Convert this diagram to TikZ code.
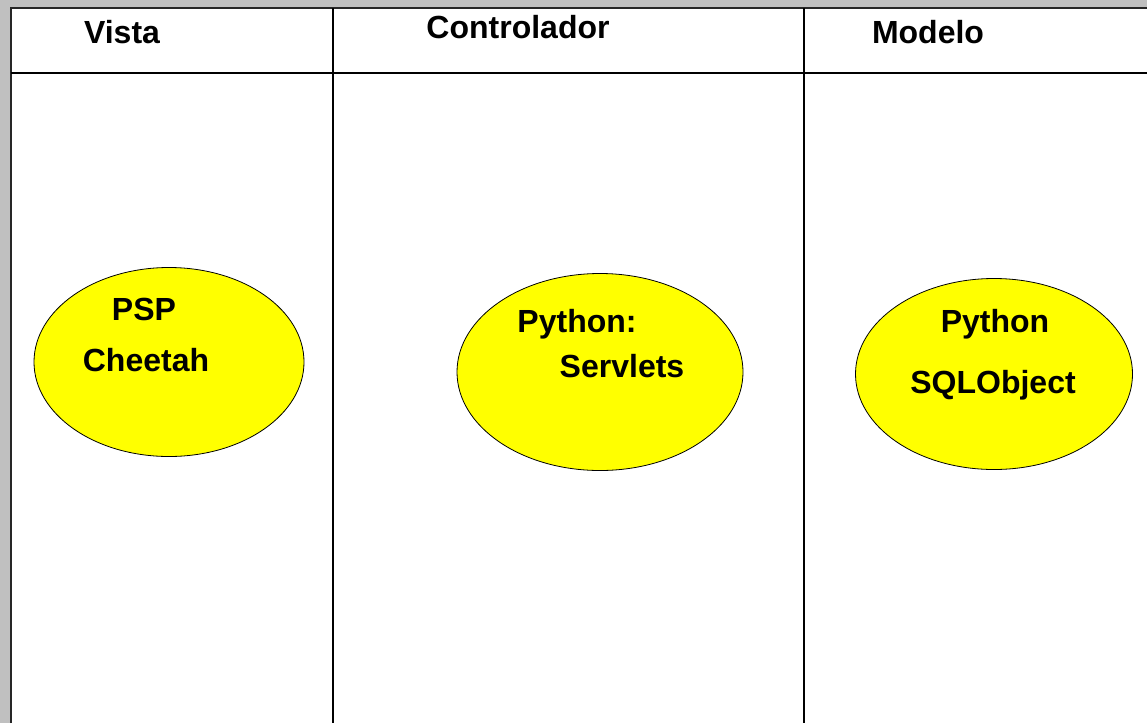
\documentclass[tikz,border=0pt]{standalone}
\usepackage{fontspec}
\setmainfont{Liberation Sans}
\usepackage{xcolor}
\usepackage{tikz}
\usetikzlibrary{shapes.geometric}

\definecolor{winGray}{HTML}{C0C0C0}
\definecolor{techYellow}{HTML}{FFFF00}

\begin{document}
\begin{tikzpicture}[
    x=1pt, y=-1pt,
    frame/.style={line width=1.6pt, draw=black!85},
    lane/.style={line width=1.3pt},
    tech/.style={draw, ellipse, line width=0.8pt, fill=techYellow, inner sep=0pt},
    label/.style={anchor=base, inner sep=0pt, font=\fontsize{32}{36}\selectfont\bfseries}
]
\useasboundingbox (0,0) rectangle (1147,723);

% Window background and frame
\fill[winGray] (0,0) rectangle (1147,723);
\fill[white] (11,8) rectangle (1147,723);
\draw[frame] (11,723) -- (11,8) -- (1147,8);

% Lanes
\draw[lane] (11,73) -- (1147,73);
\draw[lane] (333,8) -- (333,723);
\draw[lane] (804,8) -- (804,723);

% Headers
\node[label] (vista) at (122,43) {Vista};
\node[label] (controlador) at (518,38) {Controlador};
\node[label] (modelo) at (928,43) {Modelo};

% Components
\node[tech, minimum width=270pt, minimum height=189pt] (psp) at (169,362) {};
\node[tech, minimum width=286pt, minimum height=197pt] (servlets) at (600,372) {};
\node[tech, minimum width=277pt, minimum height=191pt] (sqlobject) at (994,374) {};

\node[label] (pspA) at (144,320) {PSP};
\node[label] (pspB) at (146,371) {Cheetah};
\node[label] (servletsA) at (577,332) {Python:};
\node[label] (servletsB) at (622,377) {Servlets};
\node[label] (sqlobjectA) at (995,332) {Python};
\node[label] (sqlobjectB) at (993,393) {SQLObject};

\end{tikzpicture}
\end{document}
